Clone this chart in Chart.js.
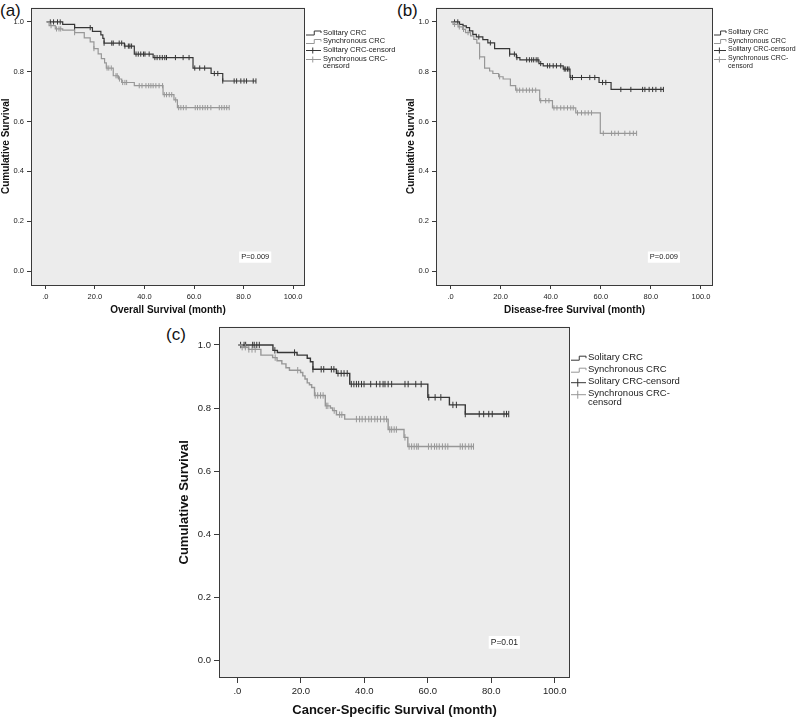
<!DOCTYPE html>
<html><head><meta charset="utf-8">
<script src="https://cdn.jsdelivr.net/npm/chart.js@4.4.1/dist/chart.umd.min.js"></script>
<style>
html,body{margin:0;padding:0;background:#fff;}
body{width:800px;height:718px;position:relative;overflow:hidden;font-family:"Liberation Sans",Arial,sans-serif;}
canvas{position:absolute;}
.lab{position:absolute;font-size:17px;color:#111;line-height:1;font-family:"Liberation Sans",Arial,sans-serif;}
</style></head><body>
<div class="lab" style="left:0px;top:2px">(a)</div>
<div class="lab" style="left:397px;top:2px">(b)</div>
<div class="lab" style="left:166px;top:326px">(c)</div>
<canvas id="ca" width="400" height="316" style="left:0;top:0"></canvas>
<canvas id="cb" width="400" height="316" style="left:400px;top:0"></canvas>
<canvas id="cc" width="560" height="400" style="left:160px;top:318px"></canvas>
<script>
// ---------- DATA ----------
// Panel (a) Overall survival
const aSolTimes = [0.5, 7, 11.8, 19, 22.4, 23.2, 23.7, 31.9, 35.9, 43.5, 59.6, 66.9, 71.6];
const aSolSurv  = [1.0, 0.99, 0.977, 0.962, 0.948, 0.934, 0.915, 0.903, 0.871, 0.857, 0.815, 0.793, 0.763];
const aSolCens  = [2, 3.3, 4.9, 6.0, 11.8, 18.1, 23.7, 26.8, 27.4, 29.8, 30.8, 32.1, 33.5, 34.1, 34.8, 36.6, 37.5, 38.5, 39.6, 40.2, 41.9, 44.2, 45.1, 46.2, 47.2, 48.2, 48.9, 52.5, 55.6, 58.0, 60.3, 62.3, 64.3, 68.2, 69.6, 71.6, 76.2, 77.2, 78.9, 80.2, 81.2, 83.9, 85];
const aSynTimes = [0.5, 1.5, 4, 7, 11.8, 15.7, 18.1, 19.6, 21.3, 22.6, 23.9, 24.6, 27.4, 29.5, 30.8, 35.9, 47.5, 51.9, 53.3];
const aSynSurv  = [1.0, 0.985, 0.972, 0.967, 0.957, 0.936, 0.92, 0.893, 0.872, 0.853, 0.836, 0.815, 0.784, 0.771, 0.757, 0.744, 0.708, 0.687, 0.656];
const aSynCens  = [2.3, 4.5, 5.5, 6.2, 11.8, 19.6, 24.9, 25.6, 26.6, 28.5, 29.0, 29.9, 31.2, 32.1, 32.8, 37.9, 39.0, 40.6, 41.7, 42.6, 43.5, 44.6, 45.9, 47.3, 48.0, 48.9, 50.0, 51.0, 52.6, 53.8, 54.7, 55.7, 56.8, 60.5, 61.4, 62.4, 63.5, 64.5, 65.5, 66.8, 70.2, 71.2, 72.2, 73.2, 74.2];

// Panel (b) Disease-free survival
const bSolTimes = [0.3, 3.6, 5, 6.3, 7.6, 8.9, 10.3, 12.9, 14.9, 17.6, 23.6, 26.3, 27.7, 35.3, 37, 45, 47.7, 59.3, 64.1];
const bSolSurv  = [1.0, 0.99, 0.984, 0.977, 0.964, 0.95, 0.94, 0.929, 0.916, 0.893, 0.871, 0.857, 0.848, 0.833, 0.824, 0.811, 0.777, 0.757, 0.729];
const bSolCens  = [1.6, 2.9, 11.3, 15.9, 23.6, 25.5, 26.5, 30.4, 31.5, 32.4, 33.2, 34.2, 34.9, 36, 38.7, 39.6, 41, 42.3, 44, 45.4, 46, 46.7, 47.3, 48, 48.7, 52.3, 55.6, 57.6, 60.7, 62, 68, 72, 76.7, 77.6, 79.3, 80.7, 82, 84, 85];
const bSynTimes = [0.3, 1, 3, 4.8, 6, 8, 9.3, 10.5, 11.6, 13.6, 15.6, 16.9, 19.2, 21, 23.9, 26, 35.6, 40.7, 50, 59.8];
const bSynSurv  = [1.0, 0.99, 0.98, 0.97, 0.957, 0.944, 0.93, 0.915, 0.86, 0.815, 0.803, 0.793, 0.78, 0.771, 0.744, 0.726, 0.684, 0.655, 0.635, 0.553];
const bSynCens  = [1.6, 3.5, 5.2, 7, 11.6, 19.6, 26.5, 27.6, 28.9, 30.3, 31.5, 32.7, 34, 36, 38, 39.3, 41.3, 42.5, 44, 45.3, 46.7, 48, 49, 50.7, 52.3, 53.7, 55, 56.3, 61, 64.3, 65.6, 67, 69.6, 71.6, 73, 74.3];

// Panel (c) Cancer-specific survival
const cSolTimes = [0.3, 11.2, 12.6, 18.8, 22, 23, 23.8, 31.2, 35.4, 60, 66.8, 71.8];
const cSolSurv  = [1.0, 0.983, 0.976, 0.968, 0.958, 0.947, 0.923, 0.91, 0.876, 0.834, 0.81, 0.781];
const cSolCens  = [1, 2.1, 2.6, 4.8, 5.3, 6.1, 6.9, 11.8, 18, 23.8, 26.4, 27.2, 29.6, 30.4, 31.7, 32.7, 33.6, 34.6, 35.9, 36.7, 37.5, 38.2, 39.1, 39.9, 42, 43.8, 44.9, 45.9, 46.5, 47.5, 48.6, 52.8, 53.8, 56.2, 57.9, 60.3, 62.3, 64.1, 67.9, 69, 71.8, 76.2, 77.6, 79.2, 80.3, 84, 84.8, 85.5];
const cSynTimes = [0.3, 1.2, 3.5, 7.4, 11.1, 12.5, 14, 15.3, 16.4, 19.9, 20.6, 21.3, 22, 22.7, 23.4, 24.3, 27.7, 29.3, 30, 31.2, 33.8, 47.5, 52.5, 53.7];
const cSynSurv  = [1.0, 0.993, 0.986, 0.968, 0.96, 0.95, 0.94, 0.928, 0.92, 0.913, 0.902, 0.892, 0.88, 0.874, 0.865, 0.84, 0.807, 0.8, 0.792, 0.779, 0.765, 0.732, 0.707, 0.678];
const cSynCens  = [1.5, 2.5, 3.6, 4.6, 5.6, 11.9, 19, 24.5, 25.3, 26.2, 27, 28, 28.5, 30.5, 32.2, 32.9, 37.5, 38.5, 39.3, 40.3, 41.4, 42.2, 43.3, 44.1, 45.1, 46.2, 47, 48, 48.6, 49.4, 50.1, 52.8, 54.1, 54.9, 55.7, 56.5, 57, 60.2, 61.1, 62.1, 62.8, 63.6, 64.6, 65.5, 66.3, 70.2, 70.9, 71.8, 72.9, 73.7, 74.4];

const xTickValues = [0, 20, 40, 60, 80, 100];
const xTickLabels = ['.0', '20.0', '40.0', '60.0', '80.0', '100.0'];
const yTickValues = [0, 0.2, 0.4, 0.6, 0.8, 1.0];
const yTickLabels = ['0.0', '0.2', '0.4', '0.6', '0.8', '1.0'];
const legendLabels = ['Solitary CRC', 'Synchronous CRC', 'Solitary CRC-censord', ['Synchronous CRC-', 'censord']];
const pValueTexts = ['P=0.009', 'P=0.009', 'P=0.01'];
const xTitles = ['Overall Survival (month)', 'Disease-free Survival (month)', 'Cancer-Specific Survival (month)'];
const yTitle = 'Cumulative Survival';

// ---------- helpers ----------
const FAM = '"Liberation Sans", Arial, sans-serif';
const DARK = '#363636', LIGHT = '#979797', BG = '#ececec', BOX = '#3a3a3a';

function survAt(times, surv, t) {
  let s = surv[0];
  for (let i = 0; i < times.length; i++) { if (times[i] <= t) s = surv[i]; }
  return s;
}
function kmSteps(times, surv, cens) {
  const pts = times.map((t, i) => ({x: t, y: surv[i]}));
  const end = Math.max(...cens);
  if (end > times[times.length - 1]) pts.push({x: end, y: surv[surv.length - 1]});
  return pts;
}
function kmCens(times, surv, cens) {
  return cens.map(c => ({x: c, y: survAt(times, surv, c)}));
}

const kmDecor = {
  id: 'kmDecor',
  beforeDraw(chart, args, o) {
    const {ctx, chartArea: a} = chart;
    ctx.save();
    ctx.fillStyle = BG;
    ctx.fillRect(a.left, a.top, a.right - a.left, a.bottom - a.top);
    ctx.restore();
  },
  afterDraw(chart, args, o) {
    const {ctx, chartArea: a, scales} = chart;
    ctx.save();
    ctx.strokeStyle = BOX; ctx.lineWidth = 1;
    ctx.strokeRect(Math.round(a.left) + 0.5, Math.round(a.top) + 0.5, Math.round(a.right - a.left) - 1, Math.round(a.bottom - a.top) - 1);
    ctx.font = o.pFont + 'px ' + FAM;
    const px = scales.x.getPixelForValue(o.pX), py = scales.y.getPixelForValue(o.pY);
    const tw = ctx.measureText(o.pText).width;
    ctx.fillStyle = '#fff';
    ctx.fillRect(px - tw / 2 - 2, py - o.pFont * 0.75, tw + 4, o.pFont * 1.5);
    ctx.fillStyle = '#222'; ctx.textAlign = 'center'; ctx.textBaseline = 'middle';
    ctx.fillText(o.pText, px, py);
    ctx.textAlign = 'left';
    ctx.font = o.lFont + 'px ' + FAM;
    const x0 = a.right + 1, tx = a.right + o.lText;
    const iw = tx - x0 - 2;
    legendLabels.forEach((lab, i) => {
      const y = a.top + o.lOff[i];
      const col = (i % 2 === 0) ? DARK : LIGHT;
      ctx.strokeStyle = col; ctx.lineWidth = 1;
      ctx.beginPath();
      if (i < 2) {
        ctx.moveTo(x0, y + 2.5); ctx.lineTo(x0 + iw * 0.55, y + 2.5);
        ctx.lineTo(x0 + iw * 0.55, y - 1.5); ctx.lineTo(x0 + iw, y - 1.5); ctx.lineTo(x0 + iw, y + 0.5);
      } else {
        ctx.moveTo(x0, y + 1); ctx.lineTo(x0 + iw, y + 1);
        ctx.moveTo(x0 + iw * 0.45, y + 1 - o.lTick); ctx.lineTo(x0 + iw * 0.45, y + 1 + o.lTick);
      }
      ctx.stroke();
      ctx.fillStyle = '#222';
      const lines = Array.isArray(lab) ? lab : [lab];
      lines.forEach((ln, k) => ctx.fillText(ln, tx, y + k * o.lLine));
    });
    ctx.restore();
  }
};

function makePanel(id, p) {
  const lineDs = (t, s, c, col) => ({data: kmSteps(t, s, c), borderColor: col, borderWidth: p.lw, stepped: true, pointRadius: 0, fill: false});
  const censDs = (t, s, c, col) => ({data: kmCens(t, s, c), showLine: false, pointStyle: 'line', pointRotation: 90, pointRadius: p.cr, pointBorderColor: col, pointBorderWidth: 1, borderColor: col, backgroundColor: col});
  new Chart(document.getElementById(id), {
    type: 'line',
    data: {datasets: [
      lineDs(p.synT, p.synS, p.synC, LIGHT), censDs(p.synT, p.synS, p.synC, LIGHT),
      lineDs(p.solT, p.solS, p.solC, DARK), censDs(p.solT, p.solS, p.solC, DARK)
    ]},
    options: {
      responsive: false, animation: false, devicePixelRatio: 1,
      layout: {padding: {left: p.padL, top: p.padT, right: p.padR, bottom: 0}},
      plugins: {
        legend: {display: false}, tooltip: {enabled: false},
        kmDecor: {pText: p.pText, pX: p.pX, pY: p.pY, pFont: p.pFont, lFont: p.lFont, lText: p.lText, lOff: p.lOff, lLine: p.lLine, lTick: p.lTick}
      },
      scales: {
        x: {
          type: 'linear', min: -5.8, max: 104.8,
          afterBuildTicks: s => { s.ticks = xTickValues.map(v => ({value: v})); },
          afterFit: s => { s.height = p.xH; },
          ticks: {callback: (v, i) => xTickLabels[i], font: {size: p.tFont, family: FAM}, color: '#222', padding: p.tPad, maxRotation: 0, autoSkip: false},
          grid: {drawOnChartArea: false, drawTicks: true, tickLength: p.tl, color: BOX, lineWidth: 1},
          border: {display: false},
          title: {display: true, text: p.xTitle, font: {size: p.aFont, weight: 'bold', family: FAM}, color: '#111', padding: 0}
        },
        y: {
          type: 'linear', min: -0.056, max: 1.058,
          afterBuildTicks: s => { s.ticks = yTickValues.map(v => ({value: v})); },
          afterFit: s => { s.width = p.yW; },
          ticks: {callback: (v, i) => yTickLabels[i], font: {size: p.tFont, family: FAM}, color: '#222', padding: p.tPad, autoSkip: false},
          grid: {drawOnChartArea: false, drawTicks: true, tickLength: p.tl, color: BOX, lineWidth: 1},
          border: {display: false},
          title: {display: true, text: yTitle, font: {size: p.aFont, weight: 'bold', family: FAM}, color: '#111', padding: 0}
        }
      }
    },
    plugins: [kmDecor]
  });
}

makePanel('ca', {
  solT: aSolTimes, solS: aSolSurv, solC: aSolCens, synT: aSynTimes, synS: aSynSurv, synC: aSynCens,
  padL: 0, padT: 7, padR: 95, yW: 31, xH: 31, lw: 1.2, cr: 2.6,
  tFont: 7.5, tPad: 3, tl: 4, aFont: 10, xTitle: xTitles[0],
  pText: pValueTexts[0], pX: 84.7, pY: 0.056, pFont: 7.5,
  lFont: 7.5, lText: 18, lOff: [25, 33.5, 42, 51], lLine: 7.5, lTick: 3
});
makePanel('cb', {
  solT: bSolTimes, solS: bSolSurv, solC: bSolCens, synT: bSynTimes, synS: bSynSurv, synC: bSynCens,
  padL: 5, padT: 7, padR: 87, yW: 31, xH: 31, lw: 1.2, cr: 2.6,
  tFont: 7.5, tPad: 3, tl: 4, aFont: 10, xTitle: xTitles[1],
  pText: pValueTexts[1], pX: 85.2, pY: 0.056, pFont: 7.5,
  lFont: 7, lText: 15, lOff: [25, 33.5, 42, 51], lLine: 7.5, lTick: 3
});
makePanel('cc', {
  solT: cSolTimes, solS: cSolSurv, solC: cSolCens, synT: cSynTimes, synS: cSynSurv, synC: cSynCens,
  padL: 17, padT: 7, padR: 150, yW: 42, xH: 40, lw: 1.4, cr: 3.2,
  tFont: 9.5, tPad: 3, tl: 5, aFont: 13, xTitle: xTitles[2],
  pText: pValueTexts[2], pX: 84.1, pY: 0.057, pFont: 8.5,
  lFont: 9.5, lText: 18, lOff: [31, 43, 55, 67], lLine: 8.5, lTick: 4
});
</script>
</body></html>
